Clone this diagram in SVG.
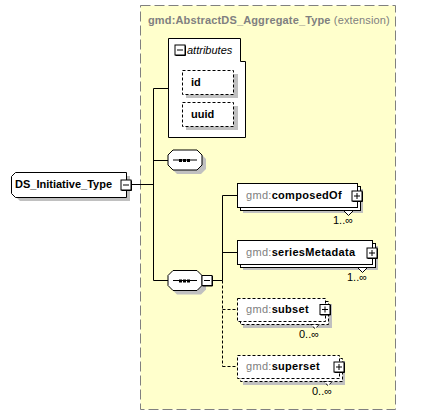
<svg xmlns="http://www.w3.org/2000/svg" width="439" height="416" viewBox="0 0 439 416">
<defs>
<style>
text{font-family:"Liberation Sans",Arial,sans-serif;font-size:11px;fill:#000}
.b{font-weight:bold}
.g{fill:#808080}
.ls{letter-spacing:0.3px}
.box{fill:#fff;stroke:#000;stroke-width:1}
.dbox{fill:#fff;stroke:#000;stroke-width:1;stroke-dasharray:3,2}
.sh{fill:#c0c0c0;stroke:none}
.ln{fill:none;stroke:#000;stroke-width:1}
.dl{fill:none;stroke:#000;stroke-width:1;stroke-dasharray:3,2}
</style>
<g id="plus">
<rect x="-5" y="-5" width="10" height="10" fill="#fff" stroke="#000"/>
<path d="M-4.5,5.5 H5.5 V-4.5" fill="none" stroke="#000"/>
<path d="M-3,0 H3 M0,-3 V3" stroke="#000" fill="none"/>
</g>
<g id="minus">
<rect x="-5" y="-5" width="10" height="10" fill="#fff" stroke="#000"/>
<path d="M-4.5,5.5 H5.5 V-4.5" fill="none" stroke="#000"/>
<path d="M-3,0 H3" stroke="#000" fill="none"/>
</g>
<g id="seq">
<polygon class="sh" points="177,154 201,154 206,159 206,169 201,174 177,174 172,169 172,159"/>
<polygon class="box" points="173,150 197,150 202,155 202,165 197,170 173,170 168,165 168,155"/>
<path class="ln" d="M173,160 H197"/>
<rect x="179" y="159" width="3" height="3" fill="#000"/>
<rect x="183" y="159" width="3" height="3" fill="#000"/>
<rect x="187" y="159" width="3" height="3" fill="#000"/>
</g>
</defs>
<g id="extension">
<rect x="140.5" y="5.5" width="255" height="404" fill="#ffffcc" stroke="#808080" stroke-dasharray="10,4"/>
<text x="148" y="24" class="b g" letter-spacing="0.15">gmd:AbstractDS_Aggregate_Type <tspan font-weight="normal">(extension)</tspan></text>
</g>
<g id="connectors">
<path class="ln" d="M131,184.5 H153.5 M153.5,88.5 V280.5 M153.5,88.5 H168 M153.5,160.5 H168 M153.5,280.5 H168"/>
<path class="ln" d="M213,280.5 H222.5 M222.5,195.5 V280.5 M222.5,195.5 H237 M222.5,252.5 H237"/>
<path class="dl" d="M222.5,280.5 V366.5 M222.5,309.5 H237 M222.5,366.5 H237"/>
</g>
<g id="DS_Initiative_Type">
<polygon class="sh" points="20,176 130,176 130,201 20,201 15,196 15,181"/>
<polygon class="box" points="15.5,172.5 126.5,172.5 126.5,197.5 15.5,197.5 11.5,193.5 11.5,176.5"/>
<text x="15" y="188" class="b">DS_Initiative_Type</text>
<use href="#minus" x="126" y="185"/>
</g>
<g id="attributes">
<path class="box" d="M168.5,38.5 H240.5 V61.5 H245.5 V137.5 H168.5 Z"/>
<use href="#minus" x="180" y="50"/>
<text x="187" y="54" font-style="italic">attributes</text>
</g>
<g id="id">
<rect class="sh" x="186" y="74" width="52" height="24"/>
<rect class="dbox" x="182.5" y="70.5" width="51" height="24"/>
<text x="191" y="86" class="b">id</text>
</g>
<g id="uuid">
<rect class="sh" x="186" y="106" width="52" height="24"/>
<rect class="dbox" x="182.5" y="102.5" width="51" height="24"/>
<text x="191" y="118" class="b">uuid</text>
</g>
<g id="sequence1">
<use href="#seq"/>
</g>
<g id="sequence2">
<use href="#seq" y="120.5"/>
<use href="#minus" x="207" y="280.5"/>
</g>
<g id="composedOf">
<rect class="sh" x="243" y="189" width="120" height="24"/>
<rect class="box" x="240.5" y="186.5" width="120" height="24"/>
<rect class="box" x="237.5" y="183.5" width="120" height="24"/>
<polygon class="box" points="343.5,210.5 353.5,210.5 348.5,215.5"/>
<text x="246" y="199" class="b ls"><tspan class="g" font-weight="normal">gmd:</tspan>composedOf</text>
<use href="#plus" x="357" y="196"/>
<text x="333" y="224">1..∞</text>
</g>
<g id="seriesMetadata">
<rect class="sh" x="243" y="246" width="135" height="24"/>
<rect class="box" x="240.5" y="243.5" width="135" height="24"/>
<rect class="box" x="237.5" y="240.5" width="135" height="24"/>
<polygon class="box" points="357.5,267.5 367.5,267.5 362.5,272.5"/>
<text x="246" y="256" class="b ls"><tspan class="g" font-weight="normal">gmd:</tspan>seriesMetadata</text>
<use href="#plus" x="372" y="253"/>
<text x="347" y="281">1..∞</text>
</g>
<g id="subset">
<rect class="sh" x="243" y="304" width="89" height="24"/>
<rect class="dbox" x="240.5" y="301.5" width="88" height="23"/>
<rect class="dbox" x="237.5" y="298.5" width="88" height="23"/>
<polygon class="dbox" points="310.5,324.5 319.5,324.5 315,328.5"/>
<text x="246" y="313" class="b ls"><tspan class="g" font-weight="normal">gmd:</tspan>subset</text>
<use href="#plus" x="325" y="309.5"/>
<text x="299" y="338">0..∞</text>
</g>
<g id="superset">
<rect class="sh" x="243" y="361" width="102" height="24"/>
<rect class="dbox" x="240.5" y="358.5" width="102" height="23"/>
<rect class="dbox" x="237.5" y="355.5" width="102" height="23"/>
<polygon class="dbox" points="323.5,381.5 332.5,381.5 328,385.5"/>
<text x="246" y="370" class="b ls"><tspan class="g" font-weight="normal">gmd:</tspan>superset</text>
<use href="#plus" x="339" y="367"/>
<text x="312" y="395">0..∞</text>
</g>
</svg>
